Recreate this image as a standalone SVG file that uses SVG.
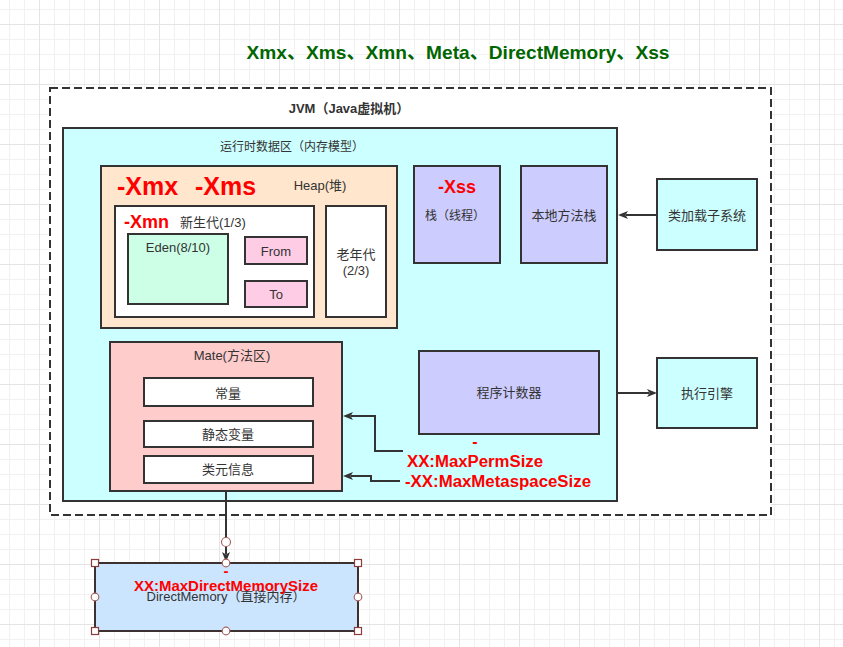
<svg xmlns="http://www.w3.org/2000/svg" width="843" height="647" viewBox="0 0 843 647">
<style>
.box{stroke:#333;stroke-width:2}
.lbl{font-family:"Liberation Sans","Noto Sans CJK SC",sans-serif;font-size:13px;fill:#333;text-anchor:middle}
.red{font-family:"Liberation Sans","Noto Sans CJK SC",sans-serif;font-weight:bold;fill:#ff0000}
.conn{fill:none;stroke:#333;stroke-width:2}
.hs{fill:#fff;stroke:#8a3c3c;stroke-width:1.2}
.hc{fill:#fff;stroke:#a86464;stroke-width:1.2}
</style>
<defs>
<pattern id="grid" patternUnits="userSpaceOnUse" x="39" y="24" width="60" height="60">
<path d="M15.5 0V60M30.5 0V60M45.5 0V60M0 15.5H60M0 30.5H60M0 45.5H60" stroke="#f1f1f1" stroke-width="1" fill="none"/>
<path d="M0.5 0V60M0 0.5H60" stroke="#e4e4e4" stroke-width="1" fill="none"/>
</pattern>
<marker id="arr" markerUnits="userSpaceOnUse" markerWidth="10" markerHeight="8" refX="2" refY="4" orient="auto">
<path d="M0,0 L10,4 L0,8 L2.5,4 z" fill="#333"/>
</marker>
</defs>
<rect width="843" height="647" fill="#fff"/>
<rect width="843" height="647" fill="url(#grid)"/>
<text x="458" y="59" text-anchor="middle" font-family="Liberation Sans,Noto Sans CJK SC,sans-serif" font-size="19" font-weight="bold" fill="#006600" textLength="423" lengthAdjust="spacingAndGlyphs">Xmx、Xms、Xmn、Meta、DirectMemory、Xss</text>
<g id="jvm">
<rect x="50" y="88" width="721" height="427" fill="#fff" stroke="#333" stroke-width="2" stroke-dasharray="8,4"/>
<text x="349" y="113" class="lbl" font-weight="bold">JVM（Java虚拟机）</text>
</g>
<g id="runtime">
<rect x="63" y="128" width="554" height="373" fill="#ccffff" class="box"/>
<text x="292" y="151" class="lbl" style="font-size:12px">运行时数据区（内存模型）</text>
</g>
<g id="heap">
<rect x="101" y="166" width="296" height="162" fill="#ffe6cc" class="box"/>
<text x="117" y="195" class="red" font-size="25">-Xmx</text>
<text x="195" y="195" class="red" font-size="25">-Xms</text>
<text x="320" y="190" class="lbl">Heap(堆)</text>
</g>
<g id="young">
<rect x="115" y="206" width="199" height="111" fill="#fff" class="box"/>
<text x="124" y="228" class="red" font-size="18">-Xmn</text>
<text x="180" y="227" class="lbl" style="text-anchor:start">新生代(1/3)</text>
</g>
<g id="eden">
<rect x="128" y="234" width="100" height="70" fill="#ccffe6" class="box"/>
<text x="178" y="252" class="lbl">Eden(8/10)</text>
</g>
<g id="from">
<rect x="245" y="237" width="62" height="27" fill="#ffcce6" class="box"/>
<text x="276" y="256" class="lbl">From</text>
</g>
<g id="to">
<rect x="245" y="281" width="62" height="26" fill="#ffcce6" class="box"/>
<text x="276" y="299" class="lbl">To</text>
</g>
<g id="old">
<rect x="326" y="206" width="60" height="111" fill="#fff" class="box"/>
<text x="356" y="259" class="lbl">老年代</text>
<text x="356" y="275" class="lbl">(2/3)</text>
</g>
<g id="stack">
<rect x="414" y="166" width="86" height="97" fill="#ccccff" class="box"/>
<text x="457" y="193" class="red" font-size="18" text-anchor="middle">-Xss</text>
<text x="455" y="220" class="lbl" style="font-size:12px">栈（线程）</text>
</g>
<g id="native">
<rect x="521" y="166" width="86" height="97" fill="#ccccff" class="box"/>
<text x="564" y="220" class="lbl">本地方法栈</text>
</g>
<g id="classloader">
<rect x="657" y="179" width="100" height="71" fill="#ccffff" class="box"/>
<text x="707" y="220" class="lbl">类加载子系统</text>
</g>
<g id="mate">
<rect x="110" y="342" width="232" height="149" fill="#ffcccc" class="box"/>
<text x="232" y="360" class="lbl">Mate(方法区)</text>
</g>
<g id="const">
<rect x="144" y="378" width="169" height="28" fill="#fff" class="box"/>
<text x="228" y="398" class="lbl">常量</text>
</g>
<g id="static">
<rect x="144" y="421" width="169" height="26" fill="#fff" class="box"/>
<text x="228" y="439" class="lbl">静态变量</text>
</g>
<g id="classmeta">
<rect x="144" y="456" width="169" height="27" fill="#fff" class="box"/>
<text x="228" y="474" class="lbl">类元信息</text>
</g>
<g id="pc">
<rect x="419" y="351" width="180" height="83" fill="#ccccff" class="box"/>
<text x="509" y="397" class="lbl">程序计数器</text>
</g>
<g id="engine">
<rect x="657" y="358" width="100" height="70" fill="#ccffff" class="box"/>
<text x="707" y="398" class="lbl">执行引擎</text>
</g>
<g id="connectors">
<path class="conn" d="M657 215H626" marker-end="url(#arr)"/>
<path class="conn" d="M617 393H649" marker-end="url(#arr)"/>
<path class="conn" d="M403 451H375V416H351" marker-end="url(#arr)"/>
<path class="conn" d="M400 481H371V476H351" marker-end="url(#arr)"/>
<path class="conn" d="M226 491V554" marker-end="url(#arr)"/>
</g>
<g id="permlabels">
<text x="475" y="447" class="red" font-size="16" text-anchor="middle">-</text>
<text x="407" y="467" class="red" font-size="16" textLength="136" lengthAdjust="spacingAndGlyphs">XX:MaxPermSize</text>
<text x="405" y="487" class="red" font-size="16" textLength="186" lengthAdjust="spacingAndGlyphs">-XX:MaxMetaspaceSize</text>
</g>
<g id="directmemory">
<rect x="95" y="563" width="263" height="68" fill="#cce5ff" stroke="#3d3030" stroke-width="2"/>
<text x="226" y="601" class="lbl">DirectMemory（直接内存）</text>
<text x="226" y="576" class="red" font-size="15" text-anchor="middle">-</text>
<text x="134" y="591" class="red" font-size="15" textLength="184" lengthAdjust="spacingAndGlyphs">XX:MaxDirectMemorySize</text>
</g>
<g id="handles">
<circle cx="226" cy="542" r="4.5" class="hc"/>
<rect x="91.5" y="559.5" width="7" height="7" class="hs"/>
<rect x="354.5" y="559.5" width="7" height="7" class="hs"/>
<rect x="91.5" y="627.5" width="7" height="7" class="hs"/>
<rect x="354.5" y="627.5" width="7" height="7" class="hs"/>
<circle cx="226" cy="563" r="3.8" class="hc"/>
<circle cx="226" cy="631" r="3.8" class="hc"/>
<circle cx="95" cy="597" r="3.8" class="hc"/>
<circle cx="358" cy="597" r="3.8" class="hc"/>
</g>
</svg>
